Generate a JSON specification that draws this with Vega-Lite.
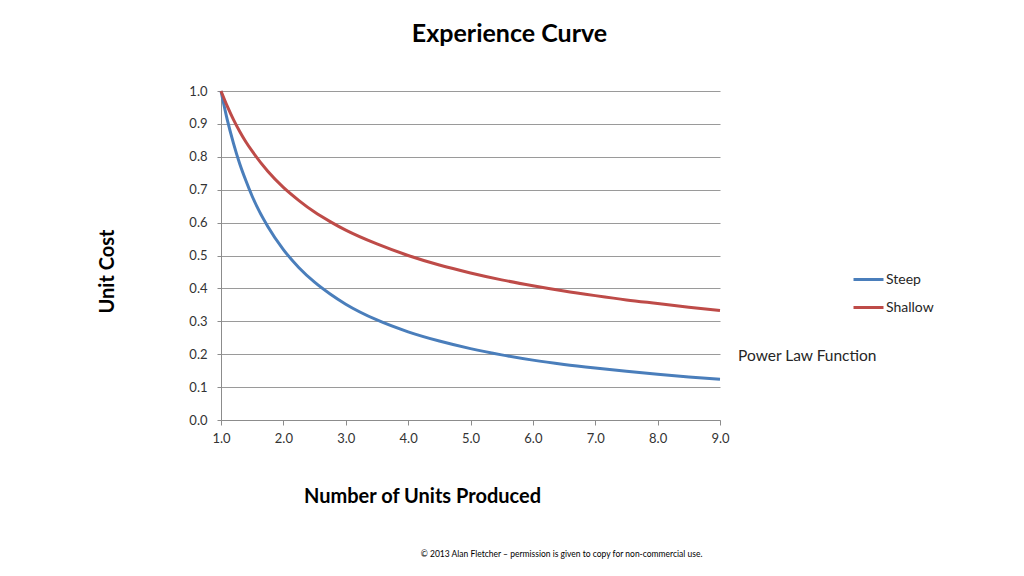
{
  "$schema": "https://vega.github.io/schema/vega-lite/v6.json",
  "width": 499,
  "height": 329,
  "autosize": {"type": "none"},
  "padding": {"left": 221, "top": 91, "right": 304, "bottom": 156},
  "background": "white",
  "config": {"font": "Lato", "view": {"stroke": null}},
  "title": {"text": "Experience Curve", "fontSize": 25, "fontWeight": "bold", "color": "#000000", "anchor": "middle", "dx": 39, "offset": 38, "font": "Lato"},
  "datasets": {
    "curves": [
      {"units": 1.0, "cost": 1.0, "series": "Steep"},
      {"units": 1.1, "cost": 0.913, "series": "Steep"},
      {"units": 1.2, "cost": 0.841, "series": "Steep"},
      {"units": 1.3, "cost": 0.779, "series": "Steep"},
      {"units": 1.4, "cost": 0.727, "series": "Steep"},
      {"units": 1.5, "cost": 0.680, "series": "Steep"},
      {"units": 1.75, "cost": 0.588, "series": "Steep"},
      {"units": 2.0, "cost": 0.518, "series": "Steep"},
      {"units": 2.25, "cost": 0.463, "series": "Steep"},
      {"units": 2.5, "cost": 0.419, "series": "Steep"},
      {"units": 2.75, "cost": 0.383, "series": "Steep"},
      {"units": 3.0, "cost": 0.352, "series": "Steep"},
      {"units": 3.5, "cost": 0.304, "series": "Steep"},
      {"units": 4.0, "cost": 0.268, "series": "Steep"},
      {"units": 4.5, "cost": 0.240, "series": "Steep"},
      {"units": 5.0, "cost": 0.217, "series": "Steep"},
      {"units": 5.5, "cost": 0.198, "series": "Steep"},
      {"units": 6.0, "cost": 0.182, "series": "Steep"},
      {"units": 6.5, "cost": 0.169, "series": "Steep"},
      {"units": 7.0, "cost": 0.158, "series": "Steep"},
      {"units": 7.5, "cost": 0.148, "series": "Steep"},
      {"units": 8.0, "cost": 0.139, "series": "Steep"},
      {"units": 8.5, "cost": 0.131, "series": "Steep"},
      {"units": 9.0, "cost": 0.124, "series": "Steep"},
      {"units": 1.0, "cost": 1.0, "series": "Shallow"},
      {"units": 1.1, "cost": 0.954, "series": "Shallow"},
      {"units": 1.2, "cost": 0.913, "series": "Shallow"},
      {"units": 1.3, "cost": 0.877, "series": "Shallow"},
      {"units": 1.4, "cost": 0.845, "series": "Shallow"},
      {"units": 1.5, "cost": 0.817, "series": "Shallow"},
      {"units": 1.75, "cost": 0.756, "series": "Shallow"},
      {"units": 2.0, "cost": 0.707, "series": "Shallow"},
      {"units": 2.25, "cost": 0.667, "series": "Shallow"},
      {"units": 2.5, "cost": 0.632, "series": "Shallow"},
      {"units": 2.75, "cost": 0.603, "series": "Shallow"},
      {"units": 3.0, "cost": 0.577, "series": "Shallow"},
      {"units": 3.5, "cost": 0.535, "series": "Shallow"},
      {"units": 4.0, "cost": 0.500, "series": "Shallow"},
      {"units": 4.5, "cost": 0.471, "series": "Shallow"},
      {"units": 5.0, "cost": 0.447, "series": "Shallow"},
      {"units": 5.5, "cost": 0.426, "series": "Shallow"},
      {"units": 6.0, "cost": 0.408, "series": "Shallow"},
      {"units": 6.5, "cost": 0.392, "series": "Shallow"},
      {"units": 7.0, "cost": 0.378, "series": "Shallow"},
      {"units": 7.5, "cost": 0.365, "series": "Shallow"},
      {"units": 8.0, "cost": 0.354, "series": "Shallow"},
      {"units": 8.5, "cost": 0.343, "series": "Shallow"},
      {"units": 9.0, "cost": 0.333, "series": "Shallow"}
    ],
    "notes": [
      {"units": 9.29, "cost": 0.195, "label": "Power Law Function", "kind": "note"},
      {"units": 6.46, "cost": -0.407, "label": "© 2013 Alan Fletcher – permission is given to copy for non-commercial use.", "kind": "copyright"}
    ]
  },
  "encoding": {
    "x": {
      "field": "units", "type": "quantitative",
      "scale": {"domain": [1, 9], "nice": false, "zero": false},
      "axis": {
        "values": [1, 2, 3, 4, 5, 6, 7, 8, 9], "format": ".1f", "grid": false, "labelFlush": false,
        "domainColor": "#8c8c8c", "tickColor": "#8c8c8c", "tickSize": 5,
        "labelFontSize": 13, "labelColor": "#333333", "labelPadding": 7,
        "title": "Number of Units Produced", "titleFontSize": 20, "titleFontWeight": "bold",
        "titleColor": "#000000", "titleX": 201, "titleY": 76, "titleBaseline": "middle", "titleAnchor": "middle"
      }
    },
    "y": {
      "field": "cost", "type": "quantitative",
      "scale": {"domain": [0, 1], "nice": false},
      "axis": {
        "values": [0, 0.1, 0.2, 0.3, 0.4, 0.5, 0.6, 0.7, 0.8, 0.9, 1.0], "format": ".1f", "grid": true,
        "gridColor": "#9a9a9a", "gridWidth": 1.2, "domainColor": "#8c8c8c", "tickColor": "#8c8c8c", "tickSize": 4,
        "labelFontSize": 13, "labelColor": "#333333", "labelPadding": 10,
        "title": "Unit Cost", "titleFontSize": 20, "titleFontWeight": "bold", "titleColor": "#000000",
        "titleX": -114, "titleY": 180, "titleAngle": -90, "titleBaseline": "middle", "titleAlign": "center"
      }
    }
  },
  "layer": [
    {
      "data": {"name": "curves"},
      "mark": {"type": "line", "strokeWidth": 3, "interpolate": "monotone", "clip": false},
      "encoding": {
        "color": {
          "field": "series", "type": "nominal",
          "scale": {"domain": ["Steep", "Shallow"], "range": ["#4a7ebb", "#be4b48"]},
          "legend": {
            "title": null, "orient": "none", "legendX": 631, "legendY": 172,
            "symbolType": "stroke", "symbolSize": 900, "symbolStrokeWidth": 3,
            "labelFontSize": 14, "labelColor": "#262626", "labelOffset": 1, "rowPadding": 4
          }
        }
      }
    },
    {
      "data": {"name": "notes"},
      "transform": [{"filter": "datum.kind === 'note'"}],
      "mark": {"type": "text", "align": "left", "baseline": "middle", "fontSize": 15.5, "color": "#262626", "clip": false},
      "encoding": {"text": {"field": "label"}}
    },
    {
      "data": {"name": "notes"},
      "transform": [{"filter": "datum.kind === 'copyright'"}],
      "mark": {"type": "text", "align": "center", "baseline": "middle", "fontSize": 8.5, "color": "#000000", "clip": false},
      "encoding": {"text": {"field": "label"}}
    }
  ]
}
